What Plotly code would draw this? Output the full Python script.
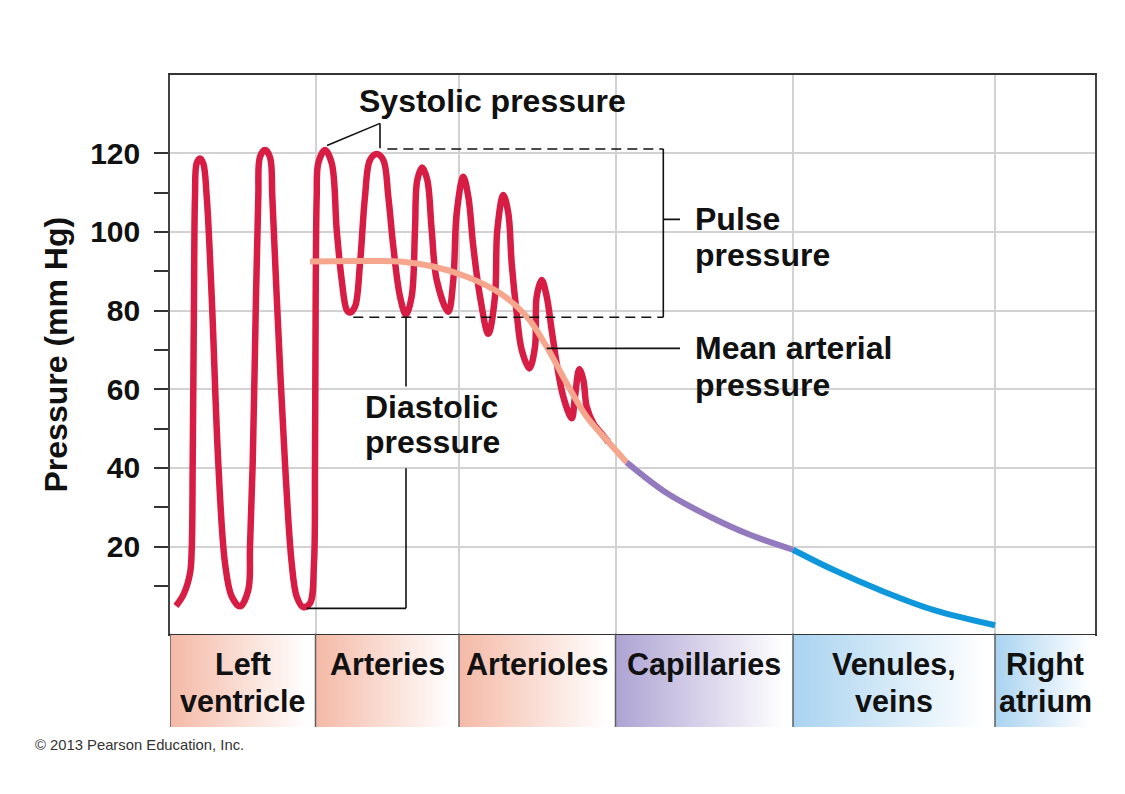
import plotly.graph_objects as go

# ---------------- data (x = distance along the circulation, y = pressure mm Hg) -------------
red_x = [6, 13.3, 20, 21.7, 22.7, 24, 25, 26.7, 30, 33.3, 36.7, 41.7, 48.3, 55, 61.7, 70,
         78.3, 80, 82.7, 86, 88.3, 90, 95, 100, 102.3, 106.7, 115, 121.7, 126.7, 133.3,
         140, 144, 145, 145.7, 146.7, 148.3, 155,
         161.7, 166.7, 171.7, 176.7, 180, 185, 190, 195, 200, 206.7, 213.3, 218.3, 223.3,
         230, 236, 241.7, 245, 247.3, 252.3, 257.3, 261.7, 266.7, 278.3, 283.3, 286.7,
         293.3, 298.3, 303.3, 310, 318.3, 325, 327.3, 333.3, 338.3, 341.7, 346.7, 351.7,
         359.3, 365, 366.7, 371.7, 376.7, 381.7, 386.7, 393.3, 401.7, 405, 409.3, 413.3,
         416.7, 423.3, 433.3, 438.3]
red_y = [4.9, 7.7, 13.2, 19.2, 41.3, 83.6, 109, 117.5, 118.7, 117.4, 109, 83.6, 41.2, 15.8, 7.3, 4.8,
         9, 20, 41.2, 83.6, 109, 119.1, 120.8, 119, 109, 83.6, 41.2, 15.8, 7.3, 4.6,
         5.6, 15.8, 41.2, 83.6, 109, 117.5, 120.8,
         117.5, 100.5, 87.8, 80.2, 79.5, 81, 92, 109, 118.3, 119.8, 118.3, 109, 96.3,
         83.6, 78.9, 83.6, 100.5, 113.2, 116.4, 113.2, 100.5, 87.8, 79.7, 87.8, 104.8,
         114, 109, 96.3, 83.6, 74.1, 83.6, 100.5, 109.4, 104.8, 92, 79.3, 70,
         65.3, 70.8, 83.6, 87.8, 83.6, 75, 66.6, 58.1, 52.6, 58.1, 65.1, 62.4,
         55.6, 51.4, 48.2, 46.6]

mean_x = [140, 190, 230, 263.3, 296.7, 330, 356.7, 376.7, 396.7, 416.7, 436.7, 450, 456.7]
mean_y = [92.5, 92.6, 92.5, 91.2, 88.6, 84.4, 78.5, 70.8, 61.5, 53, 47.1, 43.3, 41.4]

cap_x = [456.7, 496.7, 540, 580, 623]
cap_y = [41.4, 33.6, 27.6, 23, 19.2]

vein_x = [623, 663.3, 713.3, 763.3, 825]
vein_y = [19.2, 14.1, 8.6, 3.9, 0]

band_edges = [0, 145.5, 289, 445.5, 623, 825, 925]
band_labels = [["Left", "ventricle"], ["Arteries"], ["Arterioles"], ["Capillaries"],
               ["Venules,", "veins"], ["Right", "atrium"]]
band_colors = ["#f4b9a6", "#f4b9a6", "#f4b9a6", "#aea3d3", "#a9d3f0", "#a9d3f0"]

y_major = [20, 40, 60, 80, 100, 120]
y_minor = [10, 30, 50, 70, 90, 110]

# ---------------- styling ----------------
FONT = "Liberation Sans, Arial, Helvetica, sans-serif"
RED = "#d81d45"
SALMON = "#f6a68c"
PURPLE = "#9379bd"
BLUE = "#0e97da"
Y_BOTTOM = 0.1434   # bottom of the pressure panel (paper units)
BAND_TOP = 0.1410   # top of the coloured band strip

fig = go.Figure()

# gradient bands under the chart
for (x0, x1, col) in zip(band_edges[:-1], band_edges[1:], band_colors):
    fig.add_trace(go.Scatter(
        x=[x0, x1, x1, x0, x0], y=[0, 0, 1, 1, 0], xaxis="x", yaxis="y2",
        mode="lines", line=dict(width=0), fill="toself",
        fillgradient=dict(type="horizontal", start=x0, stop=x1,
                          colorscale=[[0, col], [0.95, "#ffffff"], [1, "#ffffff"]]),
        hoverinfo="skip", showlegend=False))

fig.add_trace(go.Scatter(x=red_x, y=red_y, mode="lines",
                         line=dict(color=RED, width=6.5, shape="spline", smoothing=1),
                         showlegend=False, hoverinfo="skip"))
fig.add_trace(go.Scatter(x=mean_x, y=mean_y, mode="lines",
                         line=dict(color=SALMON, width=6, shape="spline", smoothing=1),
                         showlegend=False, hoverinfo="skip"))
fig.add_trace(go.Scatter(x=cap_x, y=cap_y, mode="lines",
                         line=dict(color=PURPLE, width=6, shape="spline", smoothing=1),
                         showlegend=False, hoverinfo="skip"))
fig.add_trace(go.Scatter(x=vein_x, y=vein_y, mode="lines",
                         line=dict(color=BLUE, width=6, shape="spline", smoothing=1),
                         showlegend=False, hoverinfo="skip"))

shapes = []
# band separators
for xe in band_edges[:-1]:
    shapes.append(dict(type="line", xref="x", yref="paper", x0=xe, x1=xe, y0=0, y1=Y_BOTTOM,
                       line=dict(color="#5f5f5f", width=1.5)))

blk = dict(color="#111111", width=1.6)
dsh = dict(color="#111111", width=1.6, dash="10px,6px")
# systolic pointer
shapes.append(dict(type="line", x0=157, y0=122, x1=210, y1=127.6, line=blk))
shapes.append(dict(type="line", x0=210, y0=127.6, x1=210, y1=121.3, line=blk))
# pulse-pressure dashed guides and bracket
shapes.append(dict(type="line", x0=217.3, y0=121.1, x1=493.3, y1=121.1, line=dsh))
shapes.append(dict(type="line", x0=183.3, y0=78.3, x1=493.3, y1=78.3, line=dsh))
shapes.append(dict(type="line", x0=493.3, y0=121.1, x1=493.3, y1=78.3, line=blk))
shapes.append(dict(type="line", x0=493.3, y0=103.2, x1=510, y1=103.2, line=blk))
# mean arterial pointer
shapes.append(dict(type="line", x0=376.7, y0=70.4, x1=510, y1=70.4, line=blk))
# diastolic pointer
shapes.append(dict(type="line", x0=236, y0=78.2, x1=236, y1=60.7, line=blk))
shapes.append(dict(type="line", x0=236, y0=39.9, x1=236, y1=4.3, line=blk))
shapes.append(dict(type="line", x0=236, y0=4.3, x1=136.7, y1=4.3, line=blk))

annotations = []


def label(text, x, y, size=32, xanchor="left", xref="x", yref="y"):
    annotations.append(dict(text="<b>" + text + "</b>", x=x, y=y, xref=xref, yref=yref,
                            xanchor=xanchor, yanchor="middle", showarrow=False,
                            font=dict(family=FONT, size=size, color="#111111")))


label("Systolic pressure", 187, 133.2)
label("Pulse", 522.7, 103.4)
label("pressure", 522.7, 94.1)
label("Mean arterial", 522.7, 70.4)
label("pressure", 522.7, 61.1)
label("Diastolic", 193.3, 55.6)
label("pressure", 193.3, 46.7)

# band labels
line_y = [0.0965, 0.0402]
for (x0, x1, lines) in zip(band_edges[:-1], band_edges[1:], band_labels):
    for i, t in enumerate(lines):
        label(t, (x0 + x1) / 2, line_y[i], size=30.5, xanchor="center", yref="paper")

# y-axis title
annotations.append(dict(text="<b>Pressure (mm Hg)</b>", x=-0.123, y=0.5 + Y_BOTTOM / 2,
                        xref="paper", yref="paper", textangle=-90, showarrow=False,
                        xanchor="center", yanchor="middle",
                        font=dict(family=FONT, size=32, color="#111111")))
# credit line
annotations.append(dict(text="© 2013 Pearson Education, Inc.", x=-0.1481, y=-0.0276,
                        xref="paper", yref="paper", xanchor="left", yanchor="middle",
                        showarrow=False, font=dict(family=FONT, size=14.8, color="#333333")))

fig.update_layout(
    width=1125, height=794,
    margin=dict(l=170, r=30, t=75, b=67),
    paper_bgcolor="white", plot_bgcolor="white",
    showlegend=False,
    xaxis=dict(range=[0, 925], anchor="y", tickmode="array", tickvals=band_edges[1:-1],
               showticklabels=False, ticks="", showgrid=True, gridcolor="#d2d2d2", gridwidth=1.5,
               zeroline=False, showline=True, mirror=True, linecolor="#333333", linewidth=1.8,
               fixedrange=True),
    yaxis=dict(domain=[Y_BOTTOM, 1], range=[-2.1, 139.9], tickmode="array", tickvals=y_major,
               ticks="outside", ticklen=14, tickwidth=1.6, tickcolor="#333333",
               ticklabelstandoff=8,
               tickfont=dict(family=FONT, size=30, color="#111111", weight="bold"),
               minor=dict(tickmode="array", tickvals=y_minor, ticks="outside", ticklen=14,
                          tickwidth=1.6, tickcolor="#333333", showgrid=False),
               showgrid=True, gridcolor="#d2d2d2", gridwidth=1.5, zeroline=False,
               showline=True, mirror=True, linecolor="#444444", linewidth=1.6, fixedrange=True),
    yaxis2=dict(domain=[0, BAND_TOP], range=[0, 1], anchor="x", visible=False, fixedrange=True),
    shapes=shapes,
    annotations=annotations,
)

fig.write_html("out.html", config={"displayModeBar": False},
               post_script="document.body.style.margin='0px';document.body.style.overflow='hidden';")
